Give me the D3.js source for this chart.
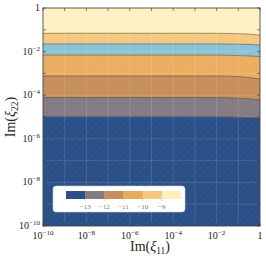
<!DOCTYPE html>
<html><head><meta charset="utf-8">
<script src="https://cdn.jsdelivr.net/npm/d3@7"></script>
<style>body{margin:0;background:#fff;} svg{display:block;}</style>
</head><body>
<script>
// ---- data ----
const xExponents = [-10,-9,-8,-7,-6,-5,-4,-3,-2,-1,0];
const xLabelExponents = [-10,-8,-6,-4,-2,0];
const yLabelExponents = [0,-2,-4,-6,-8,-10];
// boundary sample positions along x (log10 Im xi11)
const boundaryX = [-10, -2, -1, -0.5, 0];
// contour boundaries (log10 Im xi22), top to bottom
const boundary1 = [-1.16,-1.16,-1.18,-1.20,-1.24];
const boundary2 = [-1.65,-1.65,-1.66,-1.67,-1.70];
const boundary3 = [-2.16,-2.16,-2.18,-2.20,-2.23];
const boundary4 = [-3.12,-3.12,-3.15,-3.19,-3.26];
const boundary5 = [-4.11,-4.11,-4.14,-4.17,-4.22];
const boundary6 = [-4.99,-4.99,-5.01,-5.03,-5.05];
const bandColors = ["#fdf0c3","#f5c882","#88c3d7","#ebad60","#c68f5c","#857b82","#2a5087"];
const legendColors = ["#2a5087","#857b85","#c48f5c","#eaab5b","#f5c67d","#fdf0c0"];
const legendLevels = [-13,-12,-11,-10,-9];

// ---- layout ----
const W=266,H=259;
const L=43,R=260,T=8,B=226;
const svg=d3.select("body").append("svg").attr("width",W).attr("height",H);
const x=d3.scaleLog().domain([1e-10,1]).range([L,R]);
const y=d3.scaleLog().domain([1e-10,1]).range([B,T]);
const FONT="'Liberation Serif','DejaVu Serif',serif";

const defs=svg.append("defs");
defs.append("clipPath").attr("id","clip").append("rect").attr("x",L).attr("y",T).attr("width",R-L).attr("height",B-T);
const pat=defs.append("pattern").attr("id","hatch").attr("patternUnits","userSpaceOnUse").attr("width",5).attr("height",5).attr("patternTransform","rotate(45)");
pat.append("line").attr("x1",0).attr("y1",0).attr("x2",0).attr("y2",5).attr("stroke","#fff").attr("stroke-width",0.8).attr("stroke-opacity",0.1);

const g=svg.append("g").attr("clip-path","url(#clip)");
const boundaries=[boundary1,boundary2,boundary3,boundary4,boundary5,boundary6];
const topEdge=boundaryX.map(()=>0.5), botEdge=boundaryX.map(()=>-10.5);
const edges=[topEdge,...boundaries,botEdge];
const area=d3.area().curve(d3.curveMonotoneX)
  .x(d=>x(Math.pow(10,d.x))).y0(d=>y(Math.pow(10,d.lo))).y1(d=>y(Math.pow(10,d.hi)));
bandColors.forEach((c,i)=>{
  const pts=boundaryX.map((bx,j)=>({x:bx,hi:edges[i][j],lo:edges[i+1][j]}));
  g.append("path").attr("d",area(pts)).attr("fill",c).attr("stroke",c).attr("stroke-width",0.5);
});
const line=d3.line().curve(d3.curveMonotoneX).x(d=>x(Math.pow(10,d.x))).y(d=>y(Math.pow(10,d.v)));
boundaries.forEach(b=>{
  g.append("path").attr("d",line(boundaryX.map((bx,j)=>({x:bx,v:b[j]})))).attr("fill","none")
   .attr("stroke","#4a3d33").attr("stroke-opacity",0.6).attr("stroke-width",0.8);
});
// faint grid and hatch
g.append("rect").attr("x",L).attr("y",T).attr("width",R-L).attr("height",B-T).attr("fill","url(#hatch)");
xExponents.forEach(e=>{
  g.append("line").attr("x1",x(Math.pow(10,e))).attr("x2",x(Math.pow(10,e))).attr("y1",T).attr("y2",B)
   .attr("stroke","#fff").attr("stroke-opacity",0.13).attr("stroke-width",1);
  g.append("line").attr("y1",y(Math.pow(10,e))).attr("y2",y(Math.pow(10,e))).attr("x1",L).attr("x2",R)
   .attr("stroke","#fff").attr("stroke-opacity",0.13).attr("stroke-width",1);
});

// frame
svg.append("rect").attr("x",L).attr("y",T).attr("width",R-L).attr("height",B-T)
  .attr("fill","none").attr("stroke","#333").attr("stroke-width",0.8);

// ticks (inward, all sides)
xExponents.forEach(e=>{
  const px=x(Math.pow(10,e)), py=y(Math.pow(10,e));
  svg.append("line").attr("x1",px).attr("x2",px).attr("y1",B).attr("y2",B-3).attr("stroke","#333").attr("stroke-width",0.6);
  svg.append("line").attr("x1",px).attr("x2",px).attr("y1",T).attr("y2",T+3).attr("stroke","#333").attr("stroke-width",0.6);
  svg.append("line").attr("y1",py).attr("y2",py).attr("x1",L).attr("x2",L+3).attr("stroke","#333").attr("stroke-width",0.6);
  svg.append("line").attr("y1",py).attr("y2",py).attr("x1",R).attr("x2",R-3).attr("stroke","#333").attr("stroke-width",0.6);
});

function powLabel(sel,e){
  if(e===0){sel.append("tspan").text("1");return;}
  sel.append("tspan").text("10");
  sel.append("tspan").attr("dy",-4).attr("font-size",7).text("−"+(-e));
}
xLabelExponents.forEach(e=>{
  const t=svg.append("text").attr("x",x(Math.pow(10,e))).attr("y",238.5).attr("text-anchor","middle")
    .attr("font-family",FONT).attr("font-size",10).attr("fill","#222");
  powLabel(t,e);
});
yLabelExponents.forEach(e=>{
  const t=svg.append("text").attr("x",40).attr("y",y(Math.pow(10,e))+3).attr("text-anchor","end")
    .attr("font-family",FONT).attr("font-size",10).attr("fill","#222");
  powLabel(t,e);
});

// axis titles
const xt=svg.append("text").attr("x",150).attr("y",251).attr("text-anchor","middle")
  .attr("font-family",FONT).attr("font-size",14).attr("fill","#222");
xt.append("tspan").text("Im(");
xt.append("tspan").attr("font-style","italic").text("ξ");
xt.append("tspan").attr("font-size",9.5).attr("dy",3).text("11");
xt.append("tspan").attr("dy",-3).text(")");
const yt=svg.append("text").attr("transform","translate(15,117) rotate(-90)").attr("text-anchor","middle")
  .attr("font-family",FONT).attr("font-size",14).attr("fill","#222");
yt.append("tspan").text("Im(");
yt.append("tspan").attr("font-style","italic").text("ξ");
yt.append("tspan").attr("font-size",9.5).attr("dy",3).text("22");
yt.append("tspan").attr("dy",-3).text(")");

// legend
svg.append("rect").attr("x",53).attr("y",186).attr("width",132).attr("height",26).attr("rx",3)
  .attr("fill","#fff").attr("stroke","#ccc").attr("stroke-width",0.6);
const lx=d3.scaleLinear().domain([-14,-8]).range([66,181]);
legendColors.forEach((c,i)=>{
  svg.append("rect").attr("x",lx(-14+i)).attr("y",191).attr("width",lx(-13+i)-lx(-14+i)+0.3).attr("height",8).attr("fill",c);
});
legendLevels.forEach(v=>{
  svg.append("line").attr("x1",lx(v)).attr("x2",lx(v)).attr("y1",199).attr("y2",201).attr("stroke","#bbb").attr("stroke-width",0.5);
  svg.append("text").attr("x",lx(v)).attr("y",208.5).attr("text-anchor","middle")
    .attr("font-family",FONT).attr("font-size",7).attr("fill","#777").text("−"+(-v));
});
</script>
</body></html>
